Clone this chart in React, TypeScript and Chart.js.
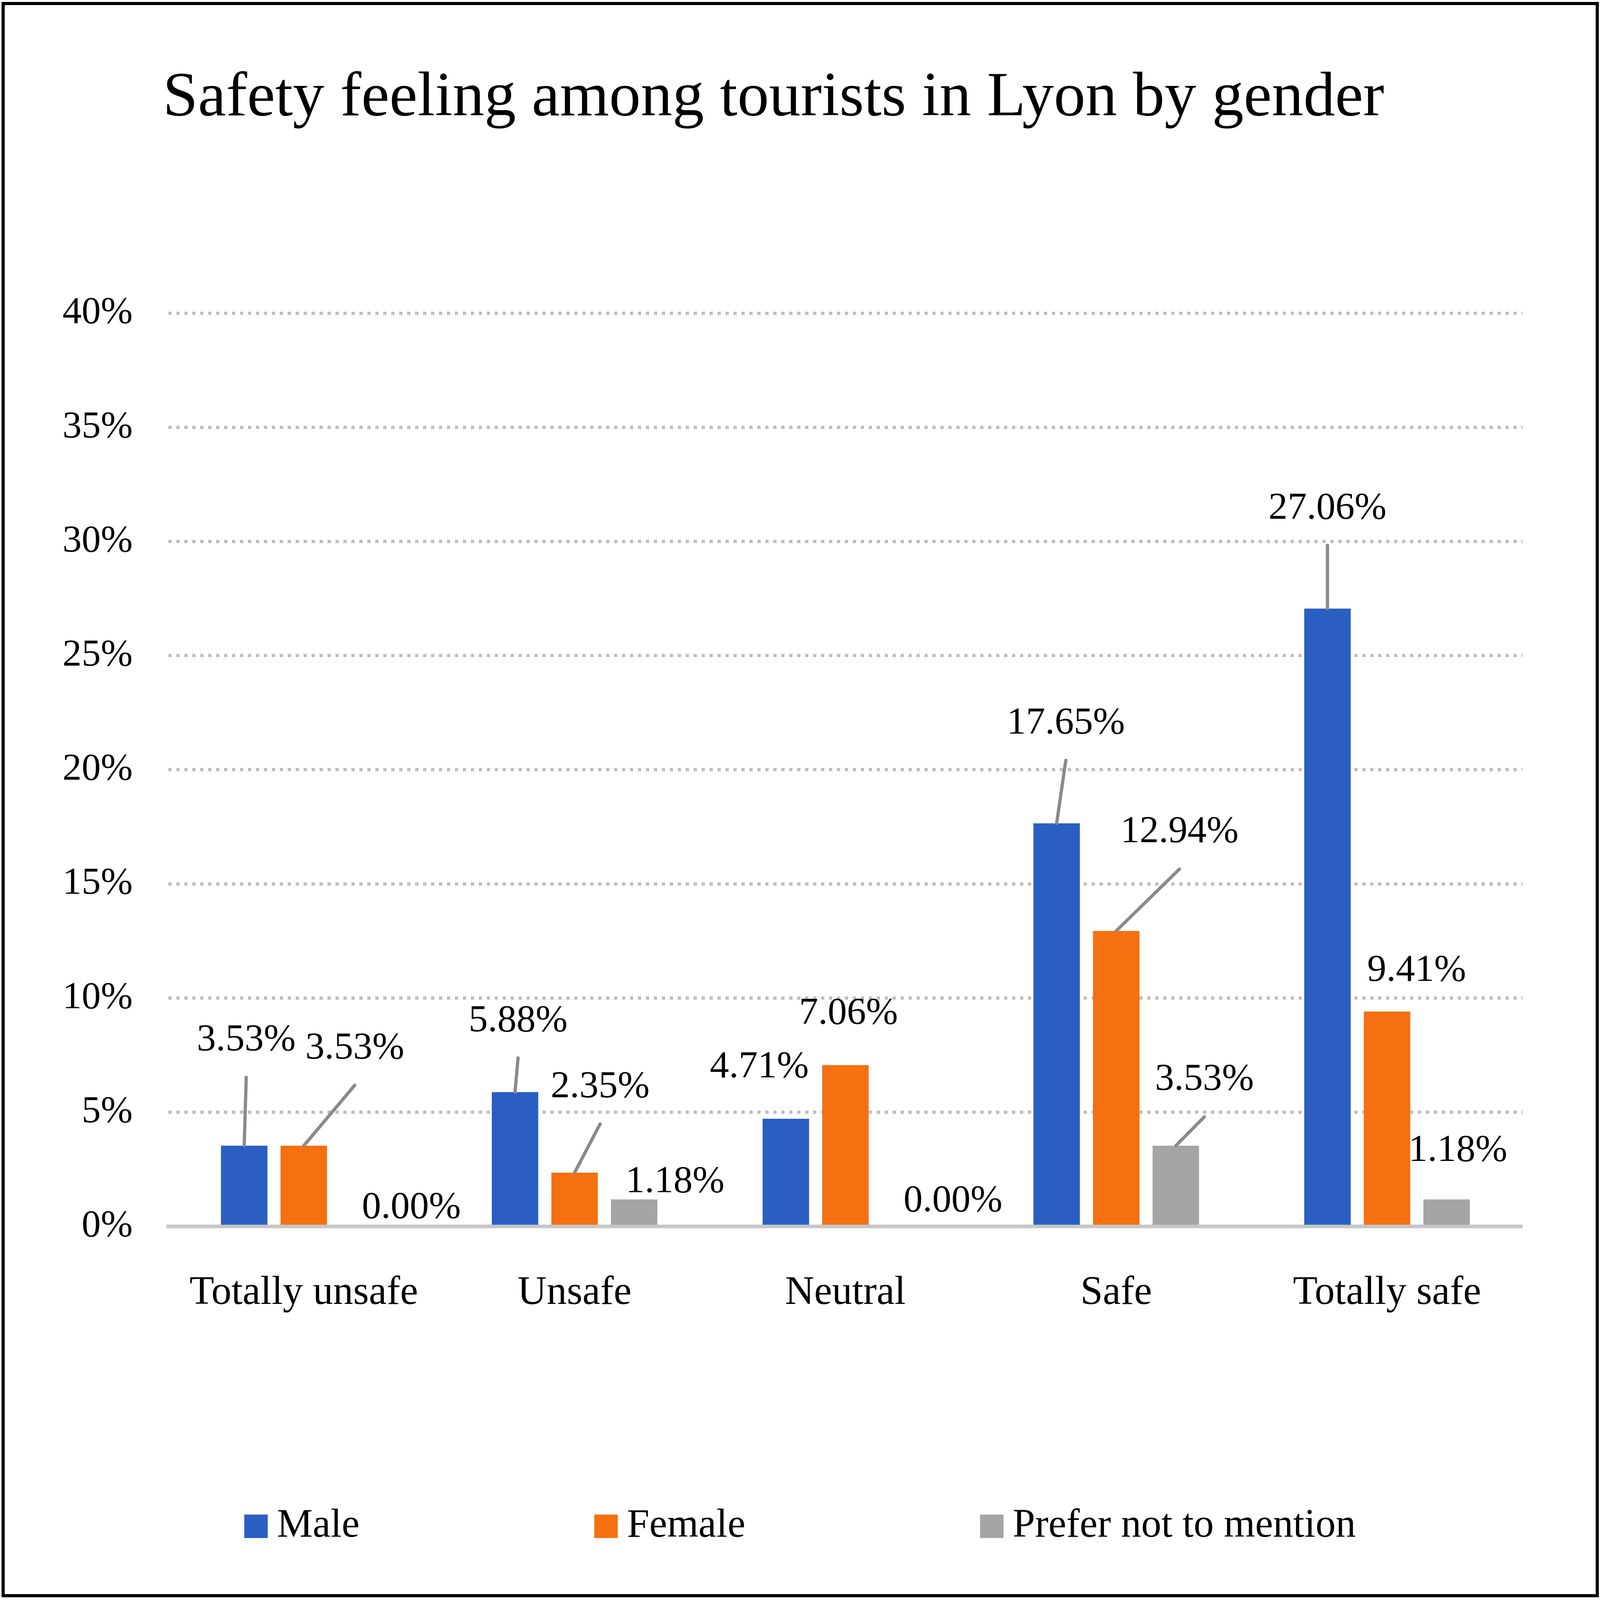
import { useEffect, useRef } from "react";
import { Chart, registerables, type ChartConfiguration, type Plugin } from "chart.js";

Chart.register(...registerables);

const categories = ["Totally unsafe", "Unsafe", "Neutral", "Safe", "Totally safe"];
const seriesNames = ["Male", "Female", "Prefer not to mention"];
const maleValues = [3.53, 5.88, 4.71, 17.65, 27.06];
const femaleValues = [3.53, 2.35, 7.06, 12.94, 9.41];
const preferNotValues = [0.0, 1.18, 0.0, 3.53, 1.18];
const yTickMax = 40;
const yTickStep = 5;

// label placement relative to the bar top, in 1568x1216 reference units: [dx, dy, leader line]
const maleLabelPos: [number, number, boolean][] = [
  [2, -80, true], [3, -54, true], [-26, -39, false], [9, -76, true], [0, -76, true],
];
const femaleLabelPos: [number, number, boolean][] = [
  [50, -74, true], [25, -65, true], [3, -39, false], [62, -75, true], [29, -31, false],
];
const preferLabelPos: [number, number, boolean][] = [
  [47, -14, false], [40, -13, false], [47, -19, false], [28, -50, true], [11, -37, false],
];

const COLORS = ["#2a5ec2", "#f47010", "#a5a5a5"];
const FONT = '"Liberation Serif", "Times New Roman", serif';
const REF_W = 1568;
const REF_H = 1216;

const units = (w: number, h: number) => {
  const ux = w / REF_W;
  const uy = h / REF_H;
  return { ux, uy, uf: Math.min(ux, uy) };
};

const dataLabels: Plugin<"bar"> = {
  id: "dataLabels",
  afterDatasetsDraw(chart) {
    const ctx = chart.ctx;
    const { ux, uy, uf } = units(chart.width, chart.height);
    const places = [maleLabelPos, femaleLabelPos, preferLabelPos];
    ctx.save();
    ctx.font = `${Math.round(37.5 * uf)}px ${FONT}`;
    ctx.textAlign = "center";
    ctx.textBaseline = "middle";
    chart.data.datasets.forEach((ds, i) => {
      const meta = chart.getDatasetMeta(i);
      meta.data.forEach((bar, j) => {
        const [dx, dy, lead] = places[i][j];
        const { x, y } = bar.getProps(["x", "y"], true) as { x: number; y: number };
        const lx = x + dx * ux;
        const ly = y + dy * uy;
        if (lead) {
          ctx.strokeStyle = "#8a8a8a";
          ctx.lineWidth = 3.2 * uf;
          ctx.lineCap = "round";
          ctx.beginPath();
          ctx.moveTo(x, y);
          ctx.lineTo(lx, ly + 28 * uy);
          ctx.stroke();
        }
        ctx.fillStyle = "#000";
        ctx.fillText(`${(ds.data[j] as number).toFixed(2)}%`, lx, ly);
      });
    });
    ctx.restore();
  },
};

const bottomLegend: Plugin<"bar"> = {
  id: "bottomLegend",
  afterDraw(chart) {
    const ctx = chart.ctx;
    const { ux, uy, uf } = units(chart.width, chart.height);
    const box = 23 * uf;
    const textGap = 9 * ux;
    const gap = 230 * ux;
    const cy = 1160 * uy;
    ctx.save();
    ctx.font = `${Math.round(39.5 * uf)}px ${FONT}`;
    ctx.textBaseline = "middle";
    ctx.textAlign = "left";
    const items = chart.data.datasets.map((ds) => ({
      text: ds.label as string,
      color: ds.backgroundColor as string,
      w: box + textGap + ctx.measureText(ds.label as string).width,
    }));
    const total = items.reduce((s, it) => s + it.w, 0) + gap * (items.length - 1);
    let x = chart.width / 2 - total / 2;
    items.forEach((it) => {
      ctx.fillStyle = it.color;
      ctx.fillRect(x, cy - box / 2, box, box);
      ctx.fillStyle = "#000";
      ctx.fillText(it.text, x + box + textGap, cy);
      x += it.w + gap;
    });
    ctx.restore();
  },
};

export default function App() {
  const ref = useRef<HTMLCanvasElement | null>(null);
  const chartRef = useRef<Chart<"bar"> | null>(null);

  const W = window.innerWidth;
  const H = window.innerHeight;
  const { ux, uy, uf } = units(W, H);

  useEffect(() => {
    const el = ref.current;
    if (!el) return;
    chartRef.current?.destroy();

    const plotLeft = 165 * ux;
    const plotRight = 1492 * ux;
    const plotTop = 238 * uy;
    const plotBottom = 932 * uy;
    const tickSize = Math.round(37.5 * uf);
    const xTickSize = Math.round(39.5 * uf);
    const titleSize = Math.round(62 * uf);
    const titleLine = titleSize * 1.2;
    const titlePadTop = 75 * uy - titleLine / 2;
    const titleShift = 52 * ux; // the title sits a little left of the page centre
    const xAxisH = 80 * uy;

    const cfg: ChartConfiguration<"bar"> = {
      type: "bar",
      data: {
        labels: categories,
        datasets: [maleValues, femaleValues, preferNotValues].map((vals, i) => ({
          label: seriesNames[i],
          data: vals,
          backgroundColor: COLORS[i],
          categoryPercentage: 0.66,
          barPercentage: 0.78,
        })),
      },
      options: {
        responsive: false,
        animation: false,
        layout: {
          padding: { left: 0, right: titleShift, top: 0, bottom: H - plotBottom - xAxisH },
        },
        plugins: {
          legend: { display: false },
          tooltip: { enabled: false },
          title: {
            display: true,
            text: "Safety feeling among tourists in Lyon by gender",
            color: "#000",
            font: { family: FONT, size: titleSize, weight: "normal", lineHeight: 1.2 },
            padding: { top: titlePadTop, bottom: plotTop - titlePadTop - titleLine },
          },
        },
        scales: {
          x: {
            grid: { display: false, drawTicks: false },
            border: { display: true, color: "#c6c6c6", width: 3.5 * uf },
            ticks: {
              color: "#000",
              font: { family: FONT, size: xTickSize },
              padding: 983 * uy - plotBottom - (xTickSize * 1.2) / 2,
              maxRotation: 0,
            },
            afterFit(scale) {
              scale.height = xAxisH;
            },
          },
          y: {
            min: 0,
            max: yTickMax,
            grid: { color: "#bebebe", lineWidth: 3.2 * uf, drawTicks: false },
            border: { display: false, dash: [3.2 * ux, 4.6 * ux] },
            ticks: {
              stepSize: yTickStep,
              color: "#000",
              font: { family: FONT, size: tickSize },
              padding: plotLeft - 130 * ux,
              callback: (v) => `${v}%`,
            },
            afterFit(scale) {
              scale.width = plotLeft;
            },
          },
          // empty right-hand axis keeps the gap on the right of the plot
          spacer: {
            type: "linear",
            position: "right",
            display: true,
            grid: { display: false, drawTicks: false },
            border: { display: false },
            ticks: { display: false },
            afterFit(scale) {
              scale.width = W - plotRight - titleShift;
            },
          },
        },
      },
      plugins: [dataLabels, bottomLegend],
    };

    chartRef.current = new Chart(el, cfg);
    return () => {
      chartRef.current?.destroy();
      chartRef.current = null;
    };
  }, [W, H, ux, uy, uf]);

  return (
    <div style={{ position: "fixed", left: 0, top: 0, width: W, height: H, background: "#fff" }}>
      <canvas ref={ref} width={W} height={H} style={{ display: "block", width: W, height: H }} />
      <div
        style={{
          position: "absolute",
          left: 1.4 * ux,
          top: 1.6 * uy,
          right: 1.2 * ux,
          bottom: 2 * uy,
          border: `${3.4 * uf}px solid #000`,
          boxSizing: "border-box",
          pointerEvents: "none",
        }}
      />
    </div>
  );
}
